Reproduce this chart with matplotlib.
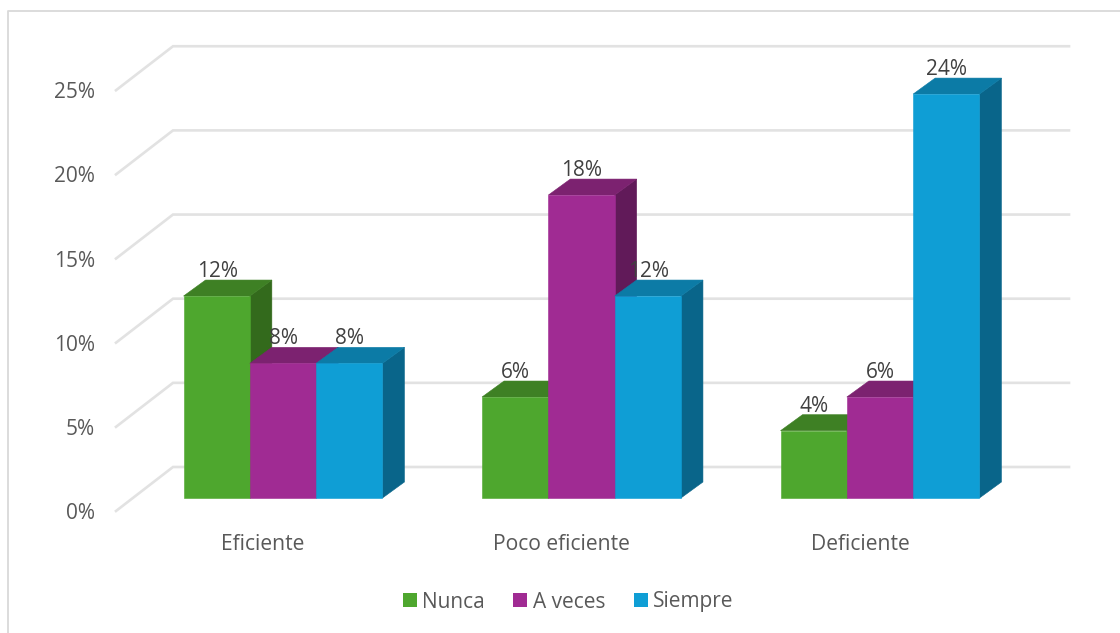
import matplotlib
matplotlib.use("Agg")
import matplotlib.pyplot as plt
from matplotlib.patches import Polygon, Rectangle
from matplotlib.lines import Line2D

categories = ["Eficiente", "Poco eficiente", "Deficiente"]
series_names = ["Nunca", "A veces", "Siempre"]
nunca = [12, 6, 4]
a_veces = [8, 18, 6]
siempre = [8, 12, 24]
y_ticks = [0, 5, 10, 15, 20, 25]

front_colors = ["#4EA72E", "#A02B93", "#0F9ED5"]
top_colors = ["#3E8024", "#7C2270", "#0C7BA6"]
side_colors = ["#336A1C", "#611A59", "#09658A"]
TEXT = "#595959"
LABEL = "#404040"

W, H = 1120, 633
plt.rcParams["font.family"] = ["Open Sans", "DejaVu Sans"]
fig = plt.figure(figsize=(W / 100, H / 100), dpi=100)
ax = fig.add_axes([0, 0, 1, 1])
X0, XU, Y0, YU = 283.0, 298.5, 498.0, 16.83
ax.set_xlim(-X0 / XU, (W - X0) / XU)
ax.set_ylim(-(H - Y0) / YU, Y0 / YU)
ax.axis("off")

def dx(px): return px / XU
def dy(px): return px / YU

# chart frame: left and top edges only are visible in the crop
frame = "#D9D9D9"
ax.add_line(Line2D([dx(8 - X0), dx(8 - X0), dx(1120 - X0)],
                   [-8.1, dy(Y0 - 10.5), dy(Y0 - 10.5)], color=frame, lw=1.3, zorder=1))

# 3D floor/wall gridlines
grid = "#E2E2E2"
for v in y_ticks:
    base = v + dy(-13)
    fx = dx(116 - X0)
    bx = dx(173 - X0)
    ex = dx(1069 - X0)
    ax.add_line(Line2D([fx, bx, ex], [base, base + dy(44), base + dy(44)],
                       color=grid, lw=1.9, zorder=2, solid_joinstyle="miter"))
    ax.text(dx(95 - X0), v + dy(-15.5), f"{v}%", ha="right", va="center",
            fontsize=15, color=TEXT, zorder=6)

# bars
BW = 66.3 / XU
DX, DY = dx(22), dy(16)
rows = [nunca, a_veces, siempre]
for c in range(len(categories)):
    for s, vals in enumerate(rows):
        v = vals[c]
        x = c + (s - 1.5) * BW
        z = 3 + s * 0.1
        ax.add_patch(Polygon([(x + BW, 0), (x + BW + DX, DY), (x + BW + DX, v + DY), (x + BW, v)],
                             fc=side_colors[s], ec=side_colors[s], lw=0.4, zorder=z))
        ax.add_patch(Polygon([(x, v), (x + DX, v + DY), (x + BW + DX, v + DY), (x + BW, v)],
                             fc=top_colors[s], ec=top_colors[s], lw=0.4, zorder=z))
        ax.add_patch(Rectangle((x, 0), BW, v, fc=front_colors[s], ec=front_colors[s], lw=0.4, zorder=z + 0.05))
for c in range(len(categories)):
    for s, vals in enumerate(rows):
        v = vals[c]
        x = c + (s - 1.5) * BW
        ax.text(x + BW / 2 + dx(0.5), v + dy(24.5), f"{v}%", ha="center", va="center",
                fontsize=15, color=LABEL, zorder=7)
    ax.text(c + dx(-20), dy(-46), categories[c], ha="center", va="center",
            fontsize=15.2, color=TEXT, zorder=6)

# legend
for name, col, sx, tx in zip(series_names, front_colors, [403, 513, 634], [422, 533, 653]):
    ax.add_patch(Rectangle((dx(sx - X0), dy(Y0 - 607)), dx(14), dy(14), fc=col, ec="none", zorder=6))
    ax.text(dx(tx - X0), dy(Y0 - 602), name, ha="left", va="center", fontsize=15, color=TEXT, zorder=6)

fig.savefig("out.png", dpi=100, facecolor="white")
